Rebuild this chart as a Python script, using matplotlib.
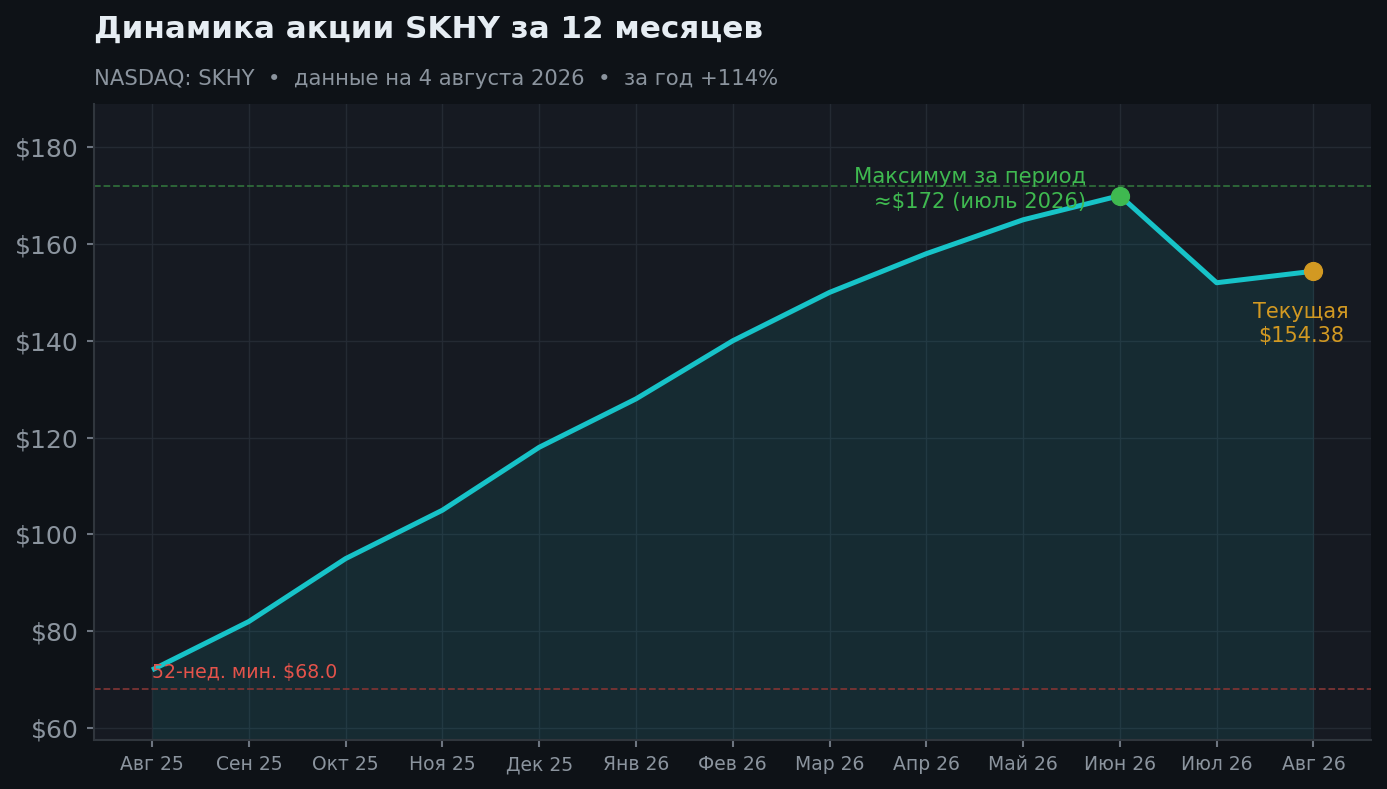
import matplotlib

matplotlib.use("Agg")

import matplotlib.pyplot as plt
import numpy as np

plt.rcParams["font.family"] = ["DejaVu Sans"]

# monthly closes
month_labels = ["Авг 25", "Сен 25", "Окт 25", "Ноя 25", "Дек 25", "Янв 26", "Фев 26",
                "Мар 26", "Апр 26", "Май 26", "Июн 26", "Июл 26", "Авг 26"]
prices = [72, 82, 95, 105, 118, 128, 140, 150, 158, 165, 170, 152, 154.38]
period_max = 172.0
low_52w = 68.0
peak_idx = 10

BG = "#0e1217"
AX_BG = "#161a22"
GRID = "#262c36"
TEXT = "#8b949e"
CYAN = "#17c3c8"
GREEN = "#3fb950"
ORANGE = "#d29922"
RED = "#e5534b"

fig = plt.figure(figsize=(13.87, 7.89), dpi=100, facecolor=BG)
ax = fig.add_axes([0.0678, 0.062, 0.921, 0.806])
ax.set_facecolor(AX_BG)

x = np.arange(len(prices))
ymin, ymax = 57.5, 188.9

ax.fill_between(x, prices, ymin, color=CYAN, alpha=0.10, linewidth=0, zorder=1)
ax.plot(x, prices, color=CYAN, linewidth=3.6, zorder=3, solid_capstyle="butt")

ax.axhline(period_max, color="#2f6b3a", linestyle="--", linewidth=1.3, zorder=2)
ax.axhline(low_52w, color="#7a3434", linestyle="--", linewidth=1.3, zorder=2)

ax.scatter([x[peak_idx]], [prices[peak_idx]], s=165, color=GREEN, zorder=4)
ax.scatter([x[-1]], [prices[-1]], s=165, color=ORANGE, zorder=4)

ax.annotate("Максимум за период\n≈$172 (июль 2026)", (x[peak_idx], prices[peak_idx]),
            xytext=(-24, 4.3), textcoords="offset points", ha="right", va="center",
            color=GREEN, fontsize=15.2, linespacing=1.3)
ax.annotate("Текущая\n$154.38", (x[-1], prices[-1]), xytext=(-9, -38),
            textcoords="offset points", ha="center", va="center",
            color=ORANGE, fontsize=15, linespacing=1.3)
ax.text(x[0], low_52w + 1.5, "52-нед. мин. $68.0", color=RED, fontsize=13.6,
        ha="left", va="bottom")

ax.set_ylim(ymin, ymax)
ax.margins(x=0.05)
ax.set_xticks(x)
ax.set_xticklabels(month_labels)
ax.set_yticks(np.arange(60, 181, 20))
ax.yaxis.set_major_formatter(matplotlib.ticker.FuncFormatter(lambda v, _: f"${v:.0f}"))

ax.grid(True, color=GRID, linewidth=1, alpha=0.9)
ax.set_axisbelow(True)
for side in ("top", "right"):
    ax.spines[side].set_visible(False)
for side in ("left", "bottom"):
    ax.spines[side].set_color("#30363d")
    ax.spines[side].set_linewidth(1.5)
ax.tick_params(axis="x", colors=TEXT, labelsize=13.5, length=5, width=1.5, color="#6e7681", pad=6)
ax.tick_params(axis="y", colors=TEXT, labelsize=18, length=5, width=1.5, color="#6e7681", pad=6)

fig.text(0.0678, 0.963, "Динамика акции SKHY за 12 месяцев", color="#e6edf3",
         fontsize=22.3, fontweight="bold", ha="left", va="center")
fig.text(0.0678, 0.9, "NASDAQ: SKHY  •  данные на 4 августа 2026  •  за год +114%",
         color=TEXT, fontsize=15.2, ha="left", va="center")

fig.savefig("out.png", dpi=100, facecolor=BG)
